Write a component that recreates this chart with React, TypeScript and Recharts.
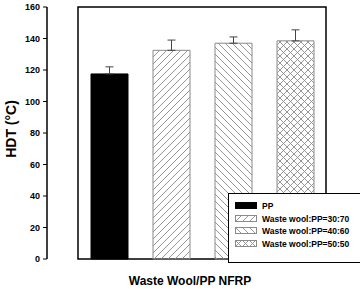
import {
  BarChart,
  Bar,
  XAxis,
  YAxis,
  Cell,
  ErrorBar,
  Legend,
  Label,
  ReferenceArea,
} from "recharts";

const categories = ["PP", "Waste wool:PP=30:70", "Waste wool:PP=40:60", "Waste wool:PP=50:50"];
const hdtValues = [117.5, 132.5, 137, 138.5];
const hdtErrors = [4.5, 6.5, 4, 7];
const yTicks = [0, 20, 40, 60, 80, 100, 120, 140, 160];

const fills = ["#000", "url(#hatchFwd)", "url(#hatchBack)", "url(#hatchCross)"];
const strokes = ["#000", "#8a8a8a", "#8a8a8a", "#8a8a8a"];

const data = categories.map((name, i) => ({
  name,
  hdt: hdtValues[i],
  err: [0, hdtErrors[i]],
}));

const font = "'Liberation Sans', Arial, sans-serif";

function YLabel({ viewBox }: any) {
  const cx = viewBox.x + 11;
  const cy = viewBox.y + viewBox.height / 2 - 4;
  return (
    <text
      x={cx}
      y={cy}
      transform={`rotate(-90, ${cx}, ${cy})`}
      textAnchor="middle"
      dominantBaseline="central"
      fontFamily={font}
      fontWeight="bold"
      fontSize={14}
      fill="#000"
    >
      HDT (°C)
    </text>
  );
}

function LegendBox() {
  return (
    <div
      style={{
        width: 127,
        height: 62,
        border: "1.5px solid #000",
        background: "#fff",
        boxSizing: "content-box",
        padding: "6px 0 0 6px",
        fontFamily: font,
        fontSize: 8.5,
        fontWeight: "bold",
        lineHeight: "12.5px",
        color: "#000",
      }}
    >
      {categories.map((name, i) => (
        <div key={name} style={{ display: "flex", alignItems: "center", height: 12.5 }}>
          <svg width={23} height={8} style={{ marginRight: 4 }}>
            <rect x={0.5} y={0.5} width={21} height={6} fill={fills[i]} stroke={strokes[i]} />
          </svg>
          <span>{name}</span>
        </div>
      ))}
    </div>
  );
}

export default function App() {
  return (
    <div style={{ position: "absolute", left: 0, top: 0, background: "#fff" }}>
      <BarChart width={360} height={289} data={data} margin={{ top: 7, right: 3, left: 0, bottom: 0 }}>
        <defs>
          <pattern id="hatchFwd" patternUnits="userSpaceOnUse" width={7} height={7}>
            <path d="M0,7 L7,0 M-1,1 L1,-1 M6,8 L8,6" stroke="#8a8a8a" strokeWidth={0.9} />
          </pattern>
          <pattern id="hatchBack" patternUnits="userSpaceOnUse" width={7} height={7}>
            <path d="M0,0 L7,7 M-1,6 L1,8 M6,-1 L8,1" stroke="#8a8a8a" strokeWidth={0.9} />
          </pattern>
          <pattern id="hatchCross" patternUnits="userSpaceOnUse" width={7} height={7}>
            <path
              d="M0,7 L7,0 M-1,1 L1,-1 M6,8 L8,6 M0,0 L7,7 M-1,6 L1,8 M6,-1 L8,1"
              stroke="#8a8a8a"
              strokeWidth={0.9}
            />
          </pattern>
        </defs>
        <XAxis
          dataKey="name"
          tick={false}
          tickLine={false}
          axisLine={false}
          height={30}
          padding={{ left: 31, right: 31 }}
        >
          <Label
            value="Waste Wool/PP NFRP"
            position="insideBottom"
            offset={4}
            dx={-12}
            style={{ fontFamily: font, fontWeight: "bold", fontSize: 12, fill: "#000" }}
          />
        </XAxis>
        <YAxis
          domain={[0, 160]}
          ticks={yTicks}
          width={47}
          interval={0}
          tickSize={4}
          tickMargin={3}
          axisLine={{ stroke: "#000", strokeWidth: 1.5 }}
          tickLine={{ stroke: "#000" }}
          tick={{ fontFamily: font, fontWeight: "bold", fontSize: 9, fill: "#000" }}
          label={<YLabel />}
        />
        <ReferenceArea y1={0} y2={160} fill="none" stroke="#000" strokeWidth={1.5} />
        <Legend
          layout="horizontal"
          verticalAlign="middle"
          align="center"
          wrapperStyle={{ left: 228, top: 193, width: "auto" }}
          content={<LegendBox />}
        />
        <Bar dataKey="hdt" barSize={37} isAnimationActive={false}>
          {data.map((d, i) => (
            <Cell key={d.name} fill={fills[i]} stroke={strokes[i]} strokeWidth={1} />
          ))}
          <ErrorBar dataKey="err" width={4} stroke="#444" strokeWidth={1} />
        </Bar>
      </BarChart>
    </div>
  );
}
